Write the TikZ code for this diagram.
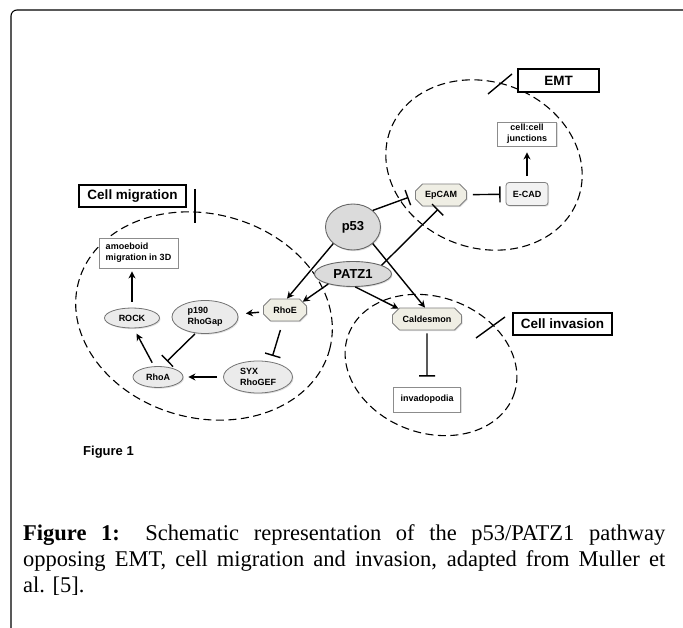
\documentclass[tikz,border=0pt]{standalone}
\usepackage{fontspec}
\setmainfont{Liberation Serif}
\newfontfamily\diagfont{Liberation Sans}
\usepackage{tikz}
\usetikzlibrary{arrows.meta}
\usetikzlibrary{shapes.geometric}
\usetikzlibrary{shapes.misc}
\usetikzlibrary{shadows}

\begin{document}
\begin{tikzpicture}[x=1pt,y=-1pt,
                act/.style={-{Stealth[length=7pt,width=7pt]},line width=1.4pt},
                inh/.style={-{Bar[width=16pt]},line width=1.4pt},
                region/.style={ellipse,draw,dash pattern=on 8pt off 4.5pt,line width=1.1pt,inner sep=0pt},
                tick/.style={line width=1.4pt},
                small/.style={font=\diagfont\bfseries\fontsize{9}{11}\selectfont,inner sep=1pt},
                shade/.style={drop shadow={opacity=0.25,shadow xshift=1pt,shadow yshift=-1.2pt}},
                protein/.style={small,ellipse,draw=black!55,fill=black!8,line width=0.8pt,shade},
                factor/.style={ellipse,draw=black!60,fill=black!14,line width=0.9pt,inner sep=0pt,
                               font=\diagfont\bfseries\fontsize{13}{15}\selectfont,shade},
                octa/.style={small,chamfered rectangle,chamfered rectangle xsep=4pt,draw=black!50,
                             fill={rgb,255:red,239;green,238;blue,228},line width=0.8pt,shade},
                outcome/.style={small,rectangle,draw=black!45,fill=white,line width=0.9pt,shade},
                title/.style={rectangle,draw=black,fill=white,line width=1.8pt,inner sep=0pt,
                              font=\diagfont\bfseries\fontsize{13.5}{16}\selectfont,shade}
                ]
            \useasboundingbox (0,0) rectangle (683,628);
            \draw[line width=1.1pt,rounded corners=6pt] (11,700) -- (11,10) -- (760,10);

            \node[region,minimum width=260pt,minimum height=204pt,rotate=-15] (migration) at (204,316) {};
            \node[region,minimum width=200pt,minimum height=166pt,rotate=-20] (emt) at (484,165) {};
            \node[region,minimum width=176pt,minimum height=136pt,rotate=-20] (invasion) at (431,365) {};

            \node[title,minimum width=107pt,minimum height=22pt] (migrationlabel) at (132.5,196) {Cell migration};
            \node[title,minimum width=81pt,minimum height=23pt] (emtlabel) at (558.5,80.5) {EMT};
            \node[title,minimum width=99pt,minimum height=22pt] (invasionlabel) at (562.5,324) {Cell invasion};

            \coordinate (mig1) at (195,189);
            \coordinate (mig2) at (195,223);
            \coordinate (emt1) at (488,94);
            \coordinate (emt2) at (512,74);
            \coordinate (inv1) at (476,338);
            \coordinate (inv2) at (505,317);
            \draw[tick] (mig1) -- (mig2);
            \draw[tick] (emt1) -- (emt2);
            \draw[tick] (inv1) -- (inv2);

            \node[factor,minimum width=55pt,minimum height=46pt] (p53) at (353,227) {p53};
            \node[factor,minimum width=77pt,minimum height=25pt] (PATZ1) at (353,274) {PATZ1};

            \node[octa,minimum width=51pt,minimum height=22pt] (EpCAM) at (441,195) {EpCAM};
            \node[small,rounded corners=3pt,draw=black!50,fill=black!5,line width=0.8pt,shade,
                  minimum width=42pt,minimum height=23pt] (ECAD) at (527,194) {E-CAD};
            \node[outcome,align=center,minimum width=59pt,minimum height=24pt] (junctions) at (527,134) {cell:cell\\junctions};

            \node[octa,minimum width=69pt,minimum height=22pt] (Caldesmon) at (427,319) {Caldesmon};
            \node[outcome,minimum width=67pt,minimum height=25pt] (invadopodia) at (427,399.5) {invadopodia};

            \node[octa,minimum width=43pt,minimum height=22pt] (RhoE) at (285,310) {RhoE};
            \node[protein,align=left,minimum width=66pt,minimum height=33pt] (p190) at (205,317) {p190\\RhoGap};
            \node[protein,align=left,minimum width=69pt,minimum height=32pt] (SYX) at (258,377) {SYX\\RhoGEF};
            \node[protein,minimum width=50pt,minimum height=21pt] (RhoA) at (158,377) {RhoA};
            \node[protein,minimum width=55pt,minimum height=20pt] (ROCK) at (132,318) {ROCK};
            \node[outcome,align=left,minimum width=79pt,minimum height=30pt] (amoeboid) at (138.5,253) {amoeboid\\migration in 3D};

            \draw[act] (p53.-140) to (RhoE.80);
            \draw[act] (PATZ1.-158) to (RhoE.25);
            \draw[act] (p53.-40) to (Caldesmon.100);
            \draw[act] (PATZ1.-80) to (Caldesmon.160);
            \draw[inh,shorten >=7pt] (p53.40) to (EpCAM.west);
            \draw[inh,shorten >=4pt] (PATZ1.17) to (EpCAM.south);
            \draw[inh,shorten <=6pt,shorten >=5pt] (EpCAM) to (ECAD);
            \draw[act,shorten <=6pt,shorten >=6pt] (ECAD) to (junctions);
            \draw[inh,shorten <=3pt,shorten >=10pt] (Caldesmon) to (invadopodia);
            \draw[act,shorten <=4pt,shorten >=8pt] (RhoE) to (p190);
            \draw[inh,shorten <=9pt,shorten >=6pt] (RhoE.-100) to (SYX.50);
            \draw[act,shorten <=6pt,shorten >=5pt] (SYX) to (RhoA);
            \draw[act,shorten <=4pt,shorten >=6pt] (RhoA.110) to (ROCK.-80);
            \draw[inh,shorten <=1pt,shorten >=7pt] (p190.-120) to (RhoA.70);
            \draw[act,shorten <=6pt,shorten >=3pt] (ROCK.north) to (ROCK.north |- amoeboid.south);

            \node[anchor=base west,inner sep=0pt,font=\diagfont\bfseries\fontsize{13}{15}\selectfont] (figlabel) at (83,455) {Figure 1};

            \node[anchor=north west,inner sep=0pt,text width=642pt,align=justify,
                  font=\fontsize{22.5}{26}\selectfont] (caption) at (23,524)
                  {\textbf{Figure 1:} Schematic representation of the p53/PATZ1 pathway\linebreak
                   opposing EMT, cell migration and invasion, adapted from Muller et\linebreak
                   al. [5].};
            \end{tikzpicture}
\end{document}
